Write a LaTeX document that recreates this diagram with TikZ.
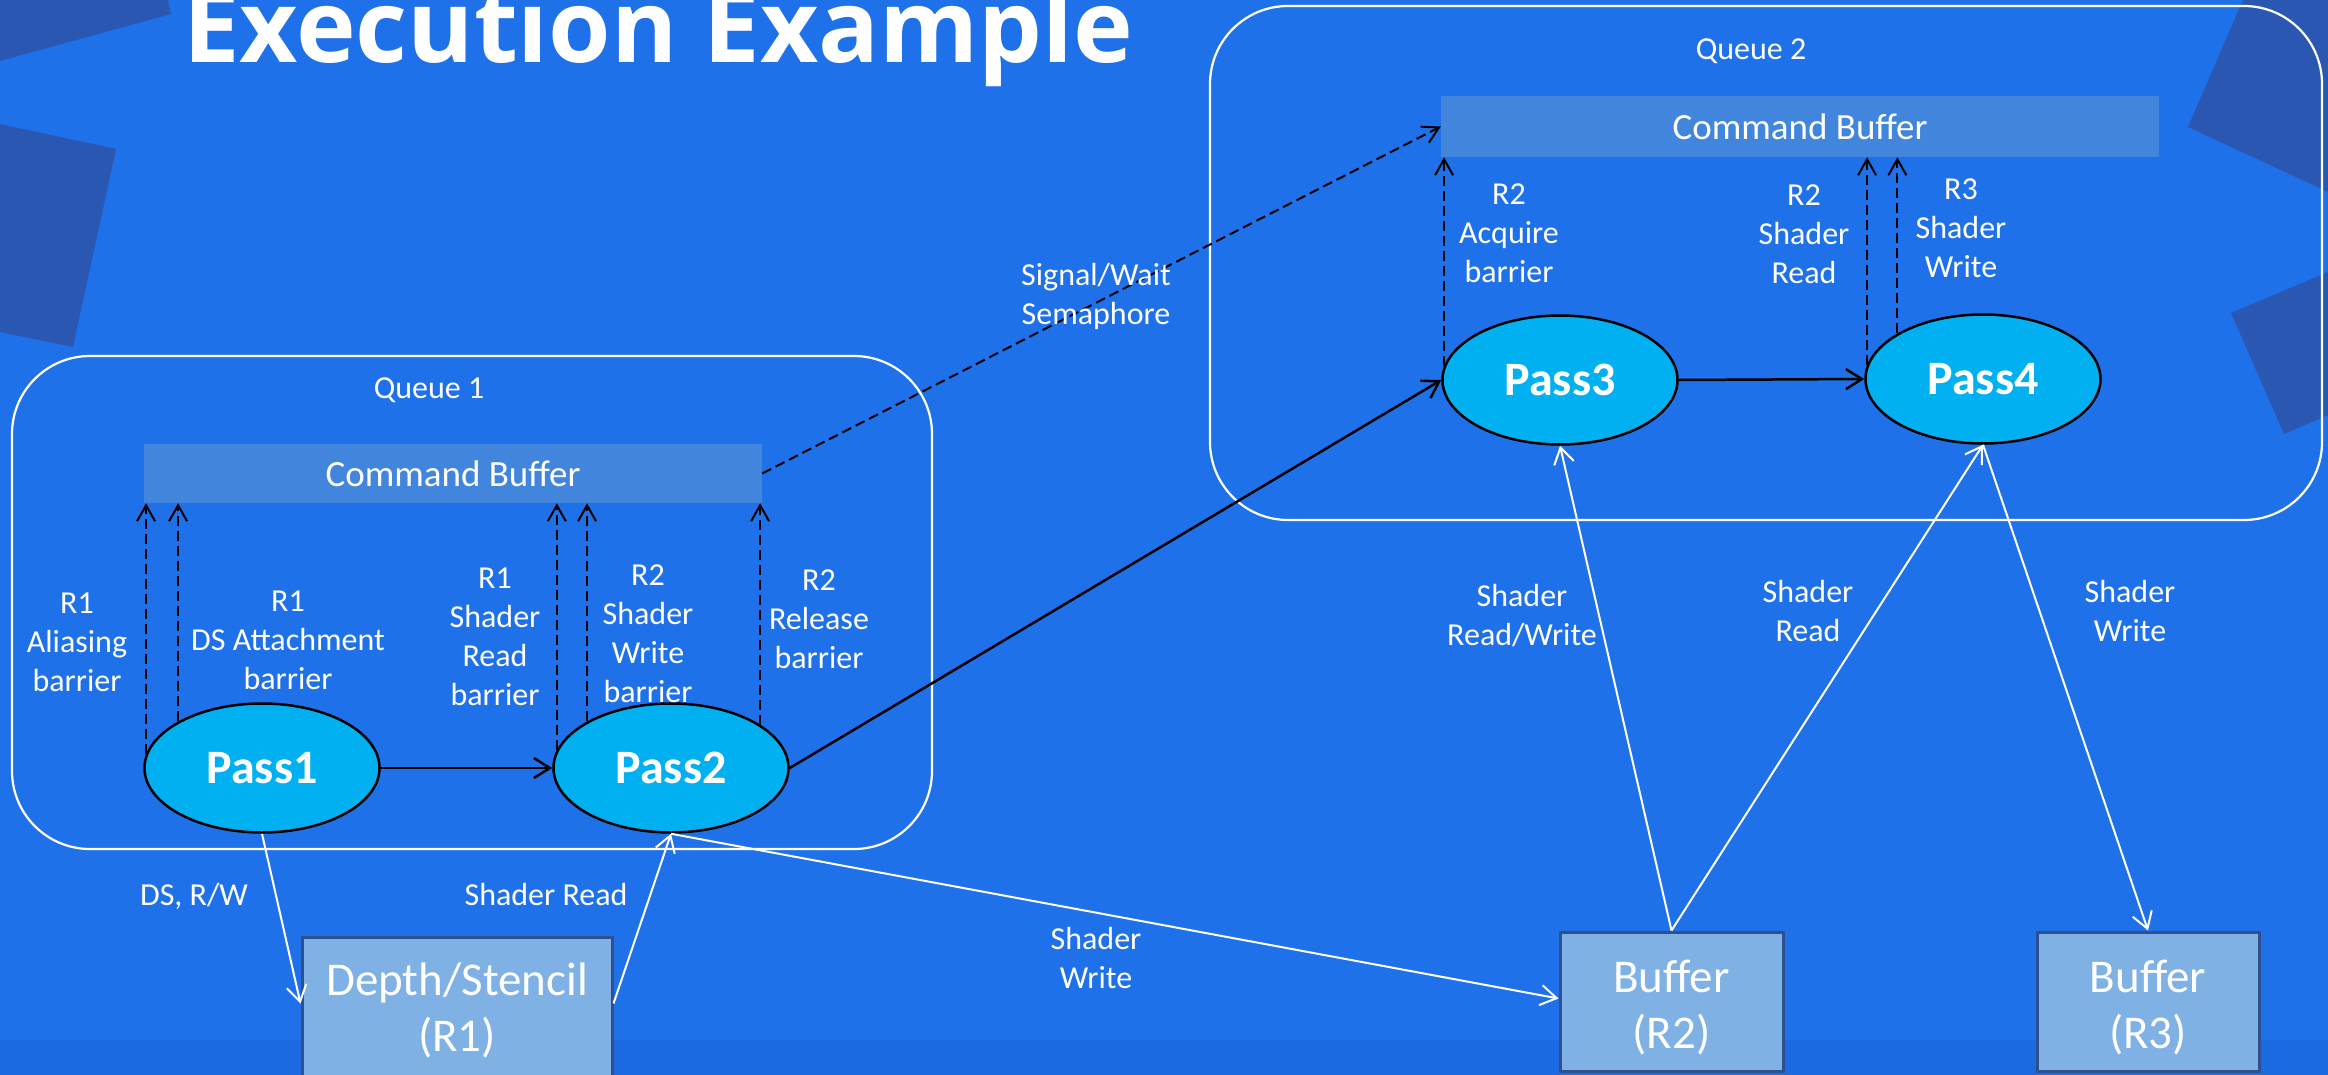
\documentclass[tikz,border=0pt]{standalone}
\usepackage{fontspec}
\setmainfont{Carlito}
\newfontfamily\titlefont{Open Sans}
\usetikzlibrary{arrows.meta,shapes.geometric,calc}

\definecolor{slidebg}{HTML}{1F71E9}
\definecolor{slideband}{HTML}{1C6AE2}
\definecolor{decoblue}{HTML}{2957B2}
\definecolor{cmdfill}{HTML}{4285DD}
\definecolor{passfill}{HTML}{00B0F0}
\definecolor{resfill}{HTML}{7FB1E5}
\definecolor{resedge}{HTML}{2F4F8F}

\tikzset{
  queuebox/.style={rectangle, draw=white, line width=2.2pt, rounded corners=78pt, inner sep=0pt},
  cmdbuf/.style={rectangle, fill=cmdfill, inner sep=0pt, text=white, font=\fontsize{37}{44}\selectfont},
  pass/.style={ellipse, draw=black, line width=2.5pt, fill=passfill, inner sep=0pt,
    minimum width=235pt, minimum height=129pt, text=white, font=\fontsize{48}{56}\bfseries\selectfont},
  resbox/.style={rectangle, draw=resedge, line width=3pt, fill=resfill, inner sep=0pt,
    text=white, align=center, font=\fontsize{47}{56}\selectfont},
  restext/.style={text=white, align=center, inner sep=0pt, font=\fontsize{47}{56}\selectfont},
  lbl/.style={text=white, align=center, inner sep=0pt, font=\fontsize{32}{39}\selectfont},
  barrier/.style={black, line width=2pt, dash pattern=on 10pt off 5pt,
    -{Straight Barb[length=16pt,width=18pt]}},
  flow/.style={black, line width=2.5pt, -{Straight Barb[length=16pt,width=20pt]}},
  access/.style={white, line width=2pt, -{Straight Barb[length=16pt,width=20pt]}},
}

\begin{document}
\begin{tikzpicture}[x=1pt,y=-1pt]
\useasboundingbox (0,0) rectangle (2328,1075);
\clip (0,0) rectangle (2328,1075);

% slide background and decorative shapes
\fill[slidebg] (0,0) rectangle (2328,1075);
\fill[slideband] (0,1040) rectangle (2328,1075);
\fill[decoblue] (0,0) -- (168,0) -- (171,14) -- (0,61) -- cycle;
\fill[decoblue] (0,124) -- (116,149) -- (73,347) -- (0,332) -- cycle;
\fill[decoblue] (2243,0) -- (2188,127) -- (2328,192) -- (2328,0) -- cycle;
\fill[decoblue] (2328,272) -- (2231,313) -- (2284,434) -- (2328,415) -- cycle;

% title
\node[anchor=base west, text=white, inner sep=0pt,
  font=\titlefont\bfseries\fontsize{101}{110}\selectfont] (title) at (183,63) {Execution Example};

% queues
\node[queuebox, minimum width=920pt, minimum height=493pt] (q1) at (472,602.5) {};
\node[queuebox, minimum width=1112pt, minimum height=514pt] (q2) at (1766,263) {};
\node[lbl, anchor=base] (q1label) at (429,398) {Queue 1};
\node[lbl, anchor=base] (q2label) at (1751,60) {Queue 2};

% command buffers
\node[cmdbuf, minimum width=618pt, minimum height=59pt] (cb1) at (453,473.5) {Command Buffer};
\node[cmdbuf, minimum width=718pt, minimum height=61pt] (cb2) at (1800,126.5) {Command Buffer};

% passes
\node[pass] (p1) at (262,768) {Pass1};
\node[pass] (p2) at (671,768) {Pass2};
\node[pass] (p3) at (1560,380) {Pass3};
\node[pass] (p4) at (1983,379) {Pass4};

% resources
\node[resbox, minimum width=310pt, minimum height=146pt] (ds) at (457,1010) {Depth/Stencil\\(R1)};
\node[resbox, minimum width=223pt, minimum height=139pt] (r2) at (1671.5,1001.5) {};
\node[resbox, minimum width=222pt, minimum height=139pt] (r3) at (2148,1001.5) {};
\node[restext] (r2text) at ([yshift=-6pt]r2.center) {Buffer\\(R2)};
\node[restext] (r3text) at ([yshift=-6pt]r3.center) {Buffer\\(R3)};

% execution order
\draw[flow] (p1.east) -- (p2.west);
\draw[flow] (p2.east) -- (p3.west);
\draw[flow] (p3.east) -- (p4.west);

% barriers recorded into the command buffers
\draw[barrier] (p1.173) -- (p1.173 |- cb1.south);
\draw[barrier] (p1.151.7) -- (p1.151.7 |- cb1.south);
\draw[barrier] (p2.171.6) -- (p2.171.6 |- cb1.south);
\draw[barrier] (p2.151.3) -- (p2.151.3 |- cb1.south);
\draw[barrier] (p2.26.9) -- (p2.26.9 |- cb1.south);
\draw[barrier] (p3.173.5) -- (p3.173.5 |- cb2.south);
\draw[barrier] (p4.173) -- (p4.173 |- cb2.south);
\draw[barrier] (p4.152.4) -- (p4.152.4 |- cb2.south);
\draw[barrier] (cb1.east) -- (cb2.west);

\node[lbl] (b1) at (77,642) {R1\\Aliasing\\barrier};
\node[lbl] (b2) at (288,640) {R1\\DS Attachment\\barrier};
\node[lbl] (b3) at (495,637) {R1\\Shader\\Read\\barrier};
\node[lbl] (b4) at (648,634) {R2\\Shader\\Write\\barrier};
\node[lbl] (b5) at (819,619) {R2\\Release\\barrier};
\node[lbl] (b6) at (1509,233) {R2\\Acquire\\barrier};
\node[lbl] (b7) at (1804,234) {R2\\Shader\\Read};
\node[lbl] (b8) at (1961,228) {R3\\Shader\\Write};
\node[lbl] (sem) at (1096,296) {Signal/Wait\\Semaphore};

% resource accesses
\draw[access] (p1.south) -- ([yshift=-68pt]ds.north west);
\draw[access] ([yshift=-68pt]ds.north east) -- (p2.south);
\draw[access] (p2.south) -- ([yshift=-68pt]r2.north west);
\draw[access] (r2.north) -- (p3.south);
\draw[access] (r2.north) -- (p4.south);
\draw[access] (p4.south) -- (r3.north);

\node[lbl, anchor=base] (a1) at (194,905) {DS, R/W};
\node[lbl, anchor=base] (a2) at (546,905) {Shader Read};
\node[lbl] (a3) at (1096,958) {Shader\\Write};
\node[lbl] (a4) at (1522,616) {Shader\\Read/Write};
\node[lbl] (a5) at (1808,611) {Shader\\Read};
\node[lbl] (a6) at (2130,611) {Shader\\Write};
\end{tikzpicture}
\end{document}
